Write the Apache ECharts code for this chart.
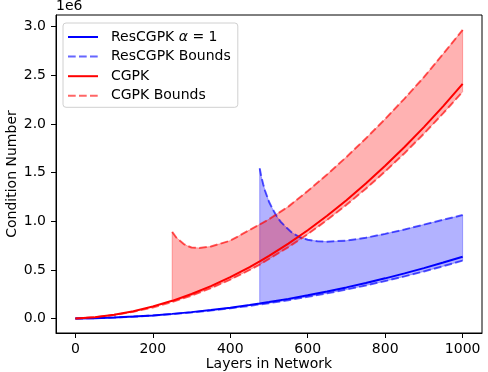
<!DOCTYPE html>
<html>
<head>
<meta charset="utf-8">
<script src="https://cdn.jsdelivr.net/npm/echarts@6/dist/echarts.min.js"></script>
<style>
html,body{margin:0;padding:0;background:#fff;}
#chart{width:488px;height:372px;}
</style>
</head>
<body>
<div id="chart"></div>
<script>
// values in millions (axis shows "1e6")
const layers = [0,50,100,150,200,250,300,350,400,450,476,500,550,600,650,700,750,800,850,900,950,1000];
const cgpk =        [0,0.014,0.039,0.075,0.123,0.182,0.252,0.333,0.425,0.529,0.587,0.644,0.770,0.907,1.056,1.216,1.387,1.569,1.762,1.967,2.183,2.410];
const cgpkLower =   [0,0.013,0.036,0.070,0.114,0.170,0.236,0.313,0.400,0.500,0.555,0.612,0.734,0.867,1.012,1.168,1.334,1.511,1.699,1.899,2.110,2.330];
const rescgpk =     [0,0.0036,0.010,0.020,0.032,0.048,0.066,0.087,0.112,0.139,0.154,0.169,0.202,0.239,0.278,0.320,0.365,0.413,0.464,0.518,0.575,0.635];
const rescgpkLower =[0,0.0035,0.0095,0.019,0.030,0.045,0.062,0.082,0.105,0.130,0.145,0.158,0.189,0.223,0.259,0.298,0.340,0.385,0.433,0.484,0.538,0.595];

const cgpkUpperLayers = [250,260,270,280,290,300,320,350,400,450,500,550,600,650,700,750,800,850,900,950,1000];
const cgpkUpper =       [0.89,0.835,0.80,0.765,0.745,0.73,0.725,0.74,0.80,0.91,1.02,1.15,1.31,1.48,1.66,1.85,2.05,2.26,2.48,2.72,2.965];

const rescgpkUpperLayers = [476,480,485,490,500,510,520,530,545,560,580,600,625,650,700,750,800,850,900,950,1000];
const rescgpkUpper =       [1.543,1.46,1.38,1.31,1.20,1.12,1.05,0.995,0.935,0.88,0.835,0.81,0.795,0.79,0.80,0.83,0.87,0.915,0.965,1.015,1.063];

const xTicks = [0,200,400,600,800,1000];
const yTicks = [0,0.5,1.0,1.5,2.0,2.5,3.0];

const FONT = 'DejaVu Sans';
const chart = echarts.init(document.getElementById('chart'), null, {renderer:'canvas'});

function pairs(xs, ys){ return xs.map((x,i)=>[x, ys[i]]); }
function bandSeries(upX, upY, lowY, fill){
  const start = upX[0];
  return {
    type:'custom', silent:true, z:1, clip:false,
    data:[[500,1]],
    renderItem:function(params, api){
      const pts = [];
      for (let i=0;i<upX.length;i++) pts.push(api.coord([upX[i], upY[i]]));
      for (let i=layers.length-1;i>=0;i--) if (layers[i] >= start) pts.push(api.coord([layers[i], lowY[i]]));
      return {type:'polygon', shape:{points:pts}, style:{fill:fill, stroke:fill, lineWidth:1}};
    }
  };
}
const dash = [7.7, 3.3];
const blue = '#0000ff', blueB = 'rgba(0,0,255,0.6)', red = '#ff0000', redB = 'rgba(255,0,0,0.6)';

chart.setOption({
  animation:false,
  backgroundColor:'#fff',
  grid:{left:56, right:6, top:15, bottom:39, containLabel:false, outerBoundsMode:'none',
        show:true, borderColor:'#000', borderWidth:1, backgroundColor:'transparent'},
  xAxis:{
    type:'value', min:-50, max:1050,
    name:'Layers in Network', nameLocation:'middle', nameGap:24, nameMoveOverlap:false,
    nameTextStyle:{fontFamily:FONT, fontSize:14, color:'#000'},
    axisLine:{show:true, onZero:false, lineStyle:{color:'#000', width:1}},
    axisTick:{show:true, length:5, lineStyle:{color:'#000'}, customValues:xTicks},
    axisLabel:{fontFamily:FONT, fontSize:14, color:'#000', margin:9, customValues:xTicks, formatter:v=>String(v)},
    splitLine:{show:false}
  },
  yAxis:{
    type:'value', min:-0.1485, max:3.1185,
    name:'Condition Number', nameLocation:'middle', nameGap:37, nameRotate:90, nameMoveOverlap:false,
    nameTextStyle:{fontFamily:FONT, fontSize:14, color:'#000'},
    axisLine:{show:true, onZero:false, lineStyle:{color:'#000', width:1}},
    axisTick:{show:true, length:5, lineStyle:{color:'#000'}, customValues:yTicks},
    axisLabel:{fontFamily:FONT, fontSize:14, color:'#000', margin:10, customValues:yTicks, formatter:v=>v.toFixed(1)},
    splitLine:{show:false}
  },
  graphic:[{type:'text', left:56, top:-1, style:{text:'1e6', font:'14px "DejaVu Sans"', fill:'#000'}}],
  legend:{
    orient:'vertical', left:63, top:23,
    data:['ResCGPK α = 1','ResCGPK Bounds','CGPK','CGPK Bounds'],
    itemWidth:30, itemHeight:14, itemGap:5.6,
    padding:[7,7,4.5,4],
    borderColor:'#d0d0d0', borderWidth:1, borderRadius:3,
    backgroundColor:'rgba(255,255,255,0.8)',
    itemStyle:{color:'transparent', borderColor:'transparent', borderWidth:0, opacity:0},
    textStyle:{fontFamily:FONT, fontSize:14, color:'#000', lineHeight:14, padding:[0,0,0,8],
      rich:{i:{fontFamily:FONT, fontStyle:'italic', fontSize:14, color:'#000', lineHeight:14}}},
    formatter:function(name){ return name === 'ResCGPK α = 1' ? 'ResCGPK {i|α} = 1' : name; }
  },
  series:[
    bandSeries(rescgpkUpperLayers, rescgpkUpper, rescgpkLower, 'rgba(0,0,255,0.3)'),
    bandSeries(cgpkUpperLayers, cgpkUpper, cgpkLower, 'rgba(255,0,0,0.3)'),
    {name:'ResCGPK α = 1', type:'line', z:3, color:blue, symbol:'none', showSymbol:false, data:pairs(layers, rescgpk), lineStyle:{color:blue, width:2}},
    {name:'ResCGPK Bounds', type:'line', z:2, color:blueB, symbol:'none', showSymbol:false, data:pairs(layers, rescgpkLower), lineStyle:{color:blueB, width:2, type:dash}},
    {name:'ResCGPK Bounds', type:'line', z:2, color:blueB, symbol:'none', showSymbol:false, data:pairs(rescgpkUpperLayers, rescgpkUpper), lineStyle:{color:blueB, width:2, type:dash}},
    {name:'CGPK', type:'line', z:3, color:red, symbol:'none', showSymbol:false, data:pairs(layers, cgpk), lineStyle:{color:red, width:2}},
    {name:'CGPK Bounds', type:'line', z:2, color:redB, symbol:'none', showSymbol:false, data:pairs(layers, cgpkLower), lineStyle:{color:redB, width:2, type:dash}},
    {name:'CGPK Bounds', type:'line', z:2, color:redB, symbol:'none', showSymbol:false, data:pairs(cgpkUpperLayers, cgpkUpper), lineStyle:{color:redB, width:2, type:dash}}
  ]
});
</script>
</body>
</html>
